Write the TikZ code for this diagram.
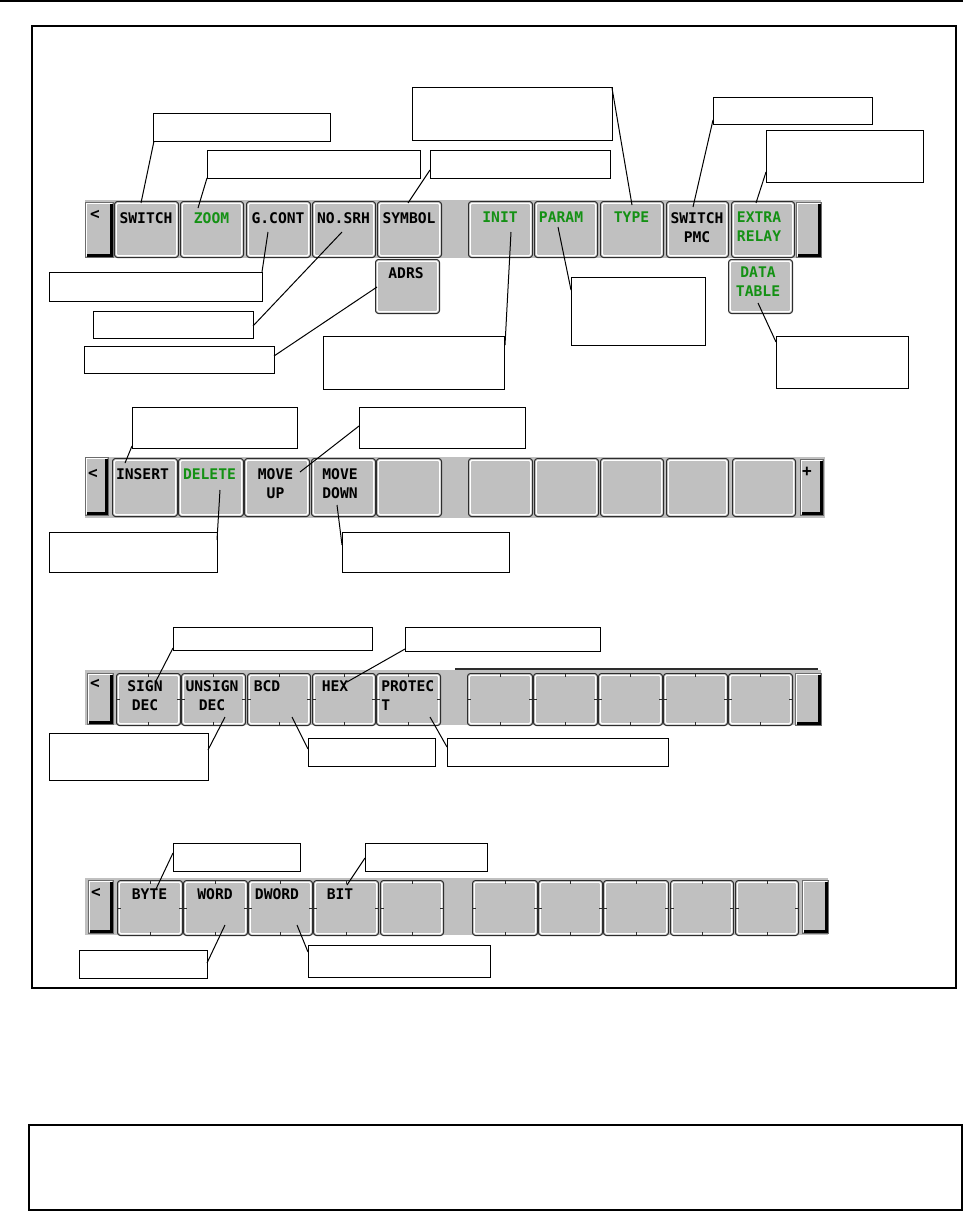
\documentclass[tikz,border=0pt]{standalone}
\usepackage{fontspec}
\newfontfamily\keyfont{DejaVu Sans Mono}
\definecolor{keygray}{RGB}{192,192,192}
\definecolor{keyedge}{RGB}{45,45,45}
\definecolor{keygreen}{RGB}{20,145,20}
\tikzset{
  hilite/.style={white, line width=0.9pt, rounded corners=1.2pt},
  key/.style={draw=keyedge, fill=keygray, line width=0.75pt, rounded corners=2.2pt,
    inner sep=0pt, anchor=north west,
    path picture={\draw[hilite] ([shift={(1.3pt,-1.3pt)}]path picture bounding box.north west)
      rectangle ([shift={(-1.3pt,1.3pt)}]path picture bounding box.south east);}},
  tkey/.style={key,
    path picture={\draw[hilite] ([shift={(1.3pt,-1.3pt)}]path picture bounding box.north west)
      rectangle ([shift={(-1.3pt,1.3pt)}]path picture bounding box.south east);
      \draw[keyedge, line width=0.6pt]
        (path picture bounding box.north) -- ++(0,-2.4pt)
        (path picture bounding box.south) -- ++(0,2.4pt)
        (path picture bounding box.west) -- ++(2.4pt,0)
        (path picture bounding box.east) -- ++(-2.4pt,0);}},
  sidebtn/.style={draw=keyedge!70, fill=keygray, line width=0.6pt, inner sep=0pt, anchor=north west,
    path picture={
      \draw[white, line width=0.9pt] ([shift={(1pt,1pt)}]path picture bounding box.south west)
        |- ([shift={(-1pt,-1pt)}]path picture bounding box.north east);
      \fill[black] ([xshift=-2.4pt,yshift=-1.2pt]path picture bounding box.north east)
        rectangle (path picture bounding box.south east);
      \fill[black] ([xshift=1.2pt,yshift=2.4pt]path picture bounding box.south west)
        rectangle (path picture bounding box.south east);}},
  bar/.style={fill=keygray},
  ktext/.style={anchor=north, align=center, inner sep=0pt,
    font=\keyfont\bfseries\fontsize{11}{14.25}\selectfont},
  ktextl/.style={ktext, anchor=north west, align=left},
  arrowch/.style={inner sep=0pt, font=\keyfont\bfseries\fontsize{12}{14}\selectfont},
  lbox/.style={draw=black, fill=white, line width=0.75pt, inner sep=0pt, anchor=north west},
  leader/.style={draw=black, line width=0.75pt},
}
\newcommand\sk[6][key]{\node[#1, minimum width={(#5-#3)*0.75pt}, minimum height={(#6-#4)*0.75pt}] (#2) at (#3,#4) {};}
\newcommand\bx[5]{\node[lbox, minimum width={#4*0.75pt}, minimum height={#5*0.75pt}] (#1) at (#2,#3) {};}
\newcommand\kt[5]{\node[ktext, text=#4] (#1) at (#2,#3) {#5};}
\newcommand\ld[3]{\coordinate (#1a) at (#2); \coordinate (#1b) at (#3); \draw[leader] (#1a) -- (#1b);}

\begin{document}
\begin{tikzpicture}[x=0.75pt,y=-0.75pt]
\useasboundingbox (0,0) rectangle (966,1213);

% header rule, frame and bottom box
\draw[line width=0.9pt] (0,1) -- (963,1);
\draw[line width=1.3pt] (32,26) rectangle (956,988);
\draw[line width=2.2pt] (29,1125) rectangle (962,1210);

% ---------------- Row 1 ----------------
\fill[bar] (85,200) rectangle (821,258);
\sk[sidebtn]{l1}{85}{202}{113}{257}
\node[arrowch] (l1t) at (95,215) {<};
\sk{k11}{114}{201}{178}{257}
\sk{k12}{180}{201}{243}{257}
\sk{k13}{246}{201}{310}{257}
\sk{k14}{312}{201}{375}{257}
\sk{k15}{377}{201}{441}{257}
\sk{k16}{468}{201}{532}{257}
\sk{k17}{534}{201}{597}{257}
\sk{k18}{600}{201}{663}{257}
\sk{k19}{666}{201}{728}{257}
\sk{k1a}{731}{201}{794}{257}
\sk[sidebtn]{r1}{796}{202}{821}{257}
\sk{k1b}{375}{259}{439}{313}
\sk{k1c}{728}{259}{792}{313}
\kt{t11}{146}{212}{black}{SWITCH}
\kt{t12}{211.5}{212}{keygreen}{ZOOM}
\kt{t13}{278}{212}{black}{G.CONT}
\kt{t14}{343.5}{212}{black}{NO.SRH}
\kt{t15}{409}{212}{black}{SYMBOL}
\kt{t16}{500}{212}{keygreen}{INIT}
\kt{t17}{561}{212}{keygreen}{PARAM}
\kt{t18}{631.5}{212}{keygreen}{TYPE}
\kt{t19}{697}{212}{black}{SWITCH\\PMC}
\kt{t1a}{759}{212}{keygreen}{EXTRA\\RELAY}
\kt{t1b}{406}{267}{black}{ADRS}
\kt{t1c}{758}{267}{keygreen}{DATA\\TABLE}

% ---------------- Row 2 ----------------
\fill[bar] (85,457) rectangle (825,518);
\sk[sidebtn]{l2}{85}{457}{108}{515}
\node[arrowch] (l2t) at (93,474) {<};
\sk{k21}{112}{458}{177}{516}
\sk{k22}{178}{458}{243}{516}
\sk{k23}{244}{458}{309}{516}
\sk{k24}{311}{458}{375}{516}
\sk{k25}{376}{458}{441}{516}
\sk{k26}{468}{458}{532}{516}
\sk{k27}{534}{458}{598}{516}
\sk{k28}{600}{458}{663}{516}
\sk{k29}{666}{458}{728}{516}
\sk{k2a}{732}{458}{795}{516}
\sk[sidebtn]{r2}{800}{459}{823}{515}
\node[arrowch] (r2t) at (807,472) {+};
\kt{t21}{142.5}{468.6}{black}{INSERT}
\kt{t22}{209.5}{468.6}{keygreen}{DELETE}
\kt{t23}{275.5}{468.6}{black}{MOVE\\UP}
\kt{t24}{340}{468.6}{black}{MOVE\\DOWN}

% ---------------- Row 3 ----------------
\fill[bar] (85,670) rectangle (821,725);
\draw[line width=1.1pt, keyedge] (455,669) -- (818,669);
\sk[sidebtn]{l3}{87}{673}{113}{724}
\node[arrowch] (l3t) at (95,684) {<};
\sk[tkey]{k31}{116}{673}{180}{725}
\sk[tkey]{k32}{181}{673}{245}{725}
\sk[tkey]{k33}{247}{673}{310}{725}
\sk[tkey]{k34}{312}{673}{375}{725}
\sk[tkey]{k35}{376}{673}{440}{725}
\sk[tkey]{k36}{467}{673}{532}{725}
\sk[tkey]{k37}{533}{673}{597}{725}
\sk[tkey]{k38}{598}{673}{662}{725}
\sk[tkey]{k39}{663}{673}{727}{725}
\sk[tkey]{k3a}{728}{673}{792}{725}
\sk[sidebtn]{r3}{795}{673}{821}{725}
\kt{t31}{145}{680.6}{black}{SIGN\\DEC}
\kt{t32}{212}{680.6}{black}{UNSIGN\\DEC}
\kt{t33}{267}{680.6}{black}{BCD}
\kt{t34}{335}{680.6}{black}{HEX}
\node[ktextl] (t35) at (381,680.6) {PROTEC\\T};

% ---------------- Row 4 ----------------
\fill[bar] (85,878) rectangle (828,935);
\sk[sidebtn]{l4}{88}{880}{113}{933}
\node[arrowch] (l4t) at (96,893) {<};
\sk[tkey]{k41}{117}{880}{182}{935}
\sk[tkey]{k42}{183}{880}{247}{935}
\sk[tkey]{k43}{248}{880}{312}{935}
\sk[tkey]{k44}{313}{880}{378}{935}
\sk[tkey]{k45}{380}{880}{443}{935}
\sk[tkey]{k46}{472}{880}{537}{935}
\sk[tkey]{k47}{538}{880}{602}{935}
\sk[tkey]{k48}{603}{880}{668}{935}
\sk[tkey]{k49}{670}{880}{733}{935}
\sk[tkey]{k4a}{735}{880}{798}{935}
\sk[sidebtn]{r4}{802}{880}{828}{933}
\kt{t41}{149.5}{888.6}{black}{BYTE}
\kt{t42}{215}{888.6}{black}{WORD}
\kt{t43}{277}{888.6}{black}{DWORD}
\kt{t44}{340}{888.6}{black}{BIT}

% ---------------- label boxes ----------------
\bx{bSwitch}{153}{113}{177}{28}
\bx{bZoom}{207}{150}{213}{28}
\bx{bSymbol}{430}{150}{180}{28}
\bx{bType}{412}{87}{200}{53}
\bx{bSwPmc}{713}{97}{159}{27}
\bx{bExtra}{766}{130}{157}{52}
\bx{bGcont}{49}{272}{213}{29}
\bx{bNosrh}{93}{311}{160}{27}
\bx{bAdrs}{84}{346}{190}{27}
\bx{bInit}{323}{336}{181}{53}
\bx{bParam}{571}{277}{134}{68}
\bx{bDataT}{776}{336}{132}{52}
\bx{bInsert}{132}{407}{165}{41}
\bx{bMoveUp}{359}{407}{166}{41}
\bx{bDelete}{49}{532}{168}{40}
\bx{bMoveDown}{342}{532}{167}{40}
\bx{bSignDec}{173}{627}{199}{23}
\bx{bHex}{405}{627}{195}{24}
\bx{bUnsign}{49}{733}{159}{47}
\bx{bBcd}{308}{738}{127}{28}
\bx{bProtect}{447}{738}{221}{28}
\bx{bByte}{173}{843}{127}{28}
\bx{bBit}{365}{843}{122}{28}
\bx{bWord}{79}{950}{128}{28}
\bx{bDword}{308}{945}{182}{32}

% ---------------- leader lines ----------------
\ld{c01}{141,203}{154,141}
\ld{c02}{198,208}{207,178}
\ld{c03}{408,203}{430,170}
\ld{c04}{632,205}{612,88}
\ld{c05}{693,207}{713,120}
\ld{c06}{756,203}{766,172}
\ld{c07}{268,232}{262,272}
\ld{c08}{342,232}{253,326}
\ld{c09}{377,287}{274,356}
\ld{c10}{511,232}{505,345}
\ld{c11}{558,227}{571,290}
\ld{c12}{758,303}{776,342}
\ld{c13}{125,463}{132,446}
\ld{c14}{300,472}{359,426}
\ld{c15}{220,490}{217,540}
\ld{c16}{337,505}{342,545}
\ld{c17}{156,681}{173,648}
\ld{c18}{347,682}{405,649}
\ld{c19}{225,717}{208,750}
\ld{c20}{292,717}{308,749}
\ld{c21}{430,717}{447,747}
\ld{c22}{156,889}{173,853}
\ld{c23}{347,885}{365,858}
\ld{c24}{225,925}{207,963}
\ld{c25}{297,925}{308,952}
\end{tikzpicture}
\end{document}
